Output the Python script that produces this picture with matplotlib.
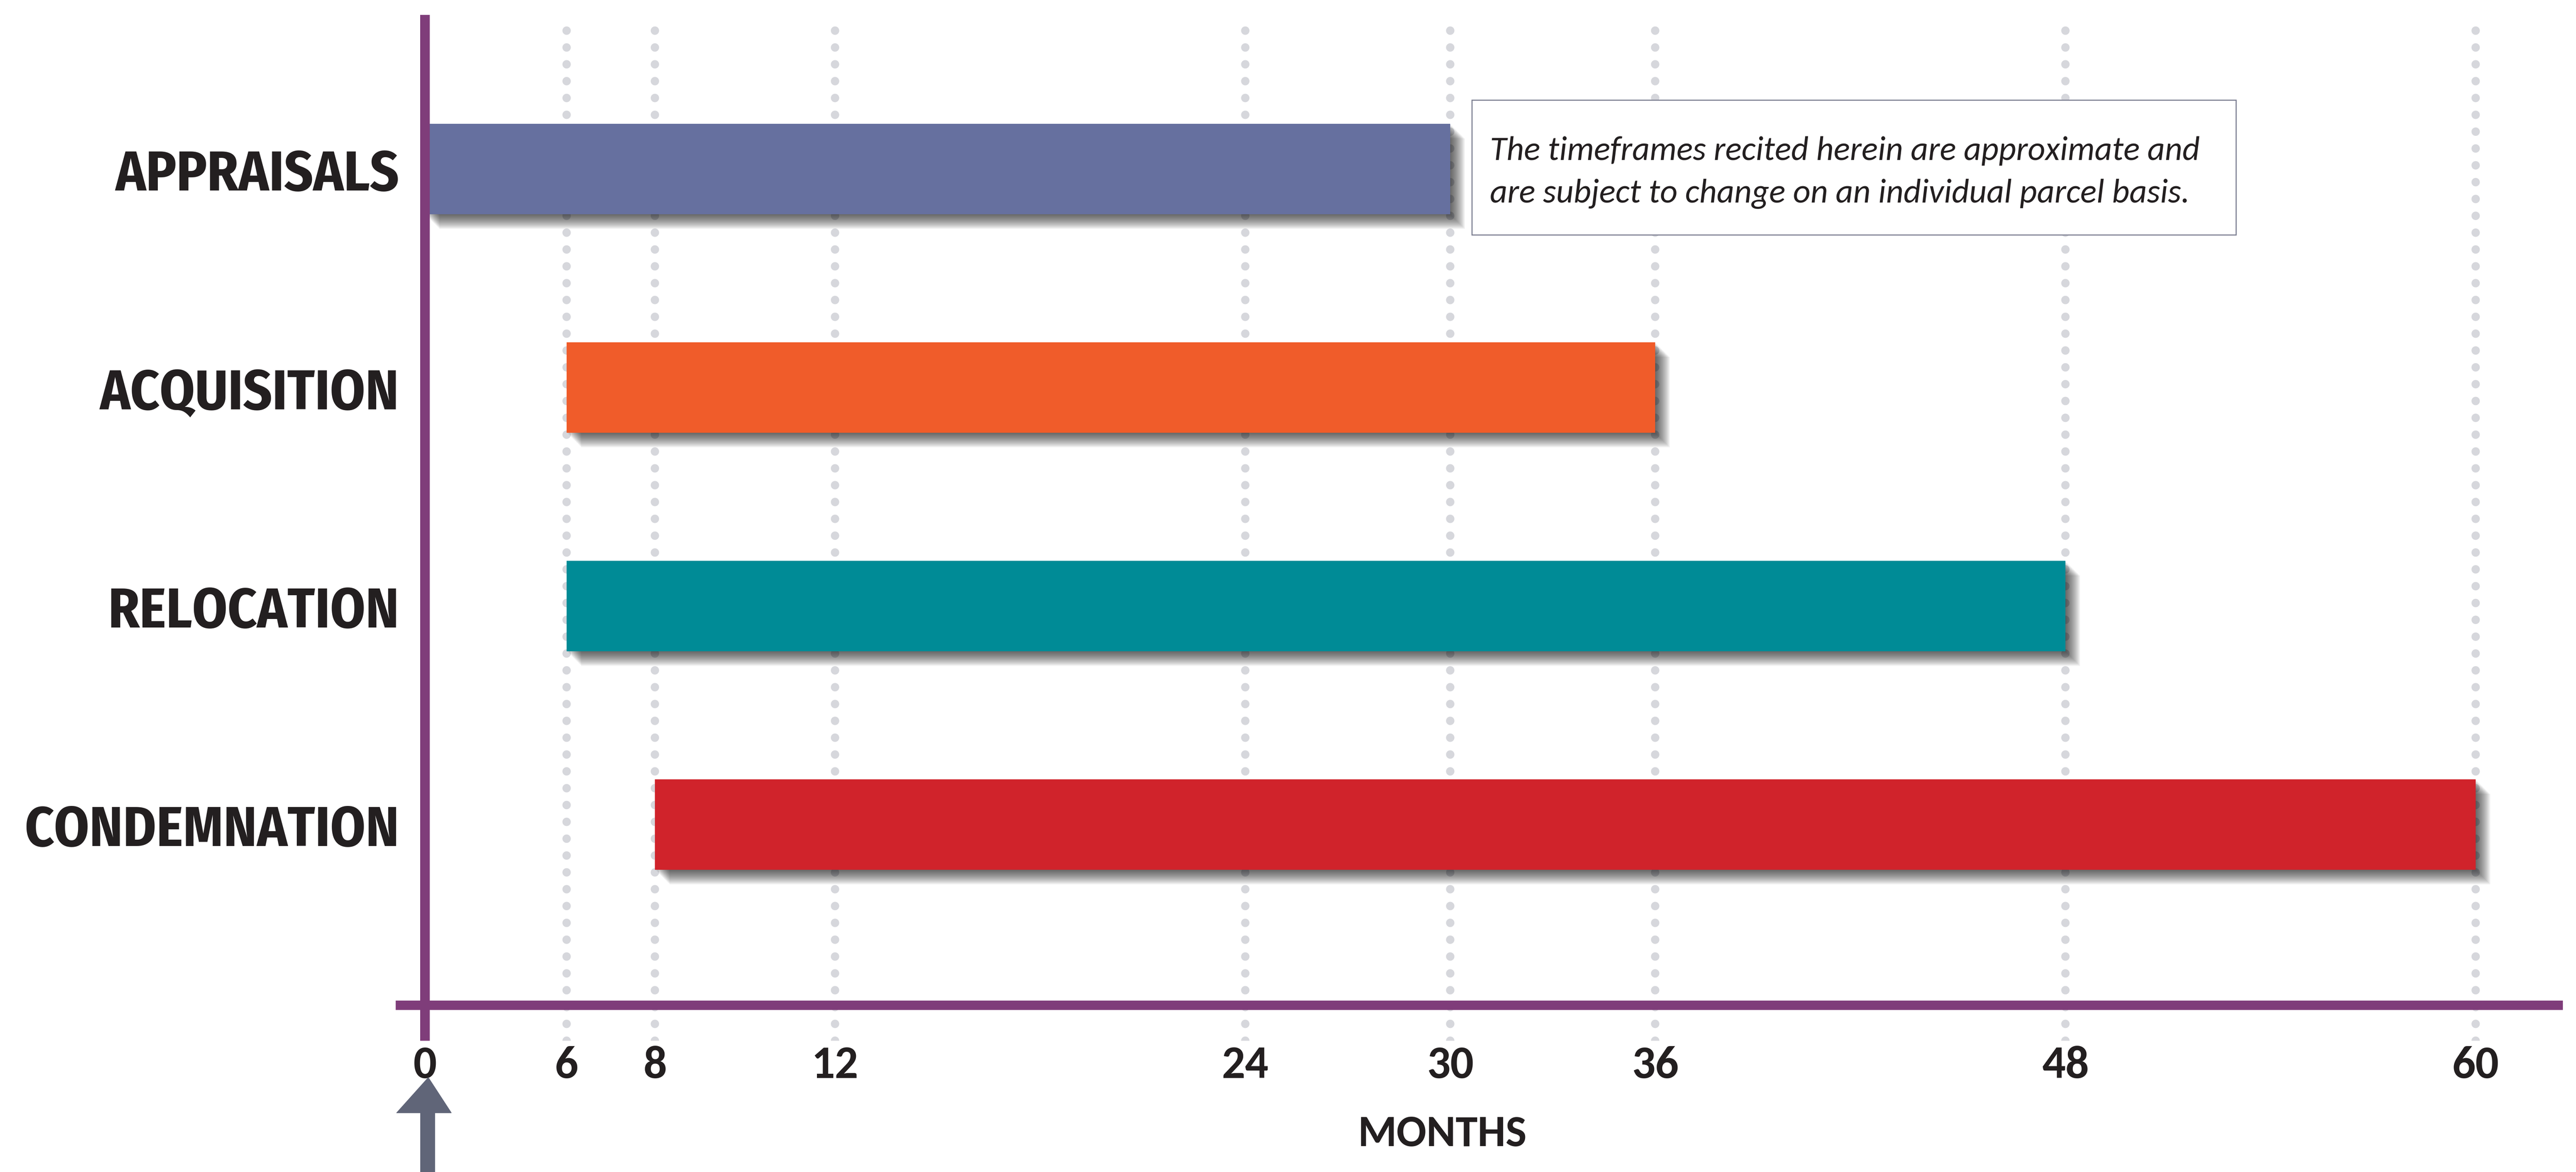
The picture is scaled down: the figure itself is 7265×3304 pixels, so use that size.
import matplotlib
matplotlib.use("Agg")
import matplotlib.pyplot as plt
import matplotlib.patheffects as pe
import numpy as np
from matplotlib import font_manager as fm
from matplotlib.patches import Rectangle

# ── Data ───────────────────────────────────────────────────────────────────────
tasks = ["APPRAISALS", "ACQUISITION", "RELOCATION", "CONDEMNATION"]
start_month = [0, 6, 6, 8]
end_month = [30, 36, 48, 60]
bar_colors = ["#66709f", "#f05c2a", "#008b96", "#d0232b"]
month_ticks = [0, 6, 8, 12, 24, 30, 36, 48, 60]
note_lines = ["The timeframes recited herein are approximate and",
              "are subject to change on an individual parcel basis."]

# The month axis of the original is not linear below 12 months:
# piecewise-linear knots (month -> drawn position)
knot_month = [-10, 0, 6, 8, 12, 100]
knot_pos = [-10, 0, 4.15, 6.73, 12, 100]

# ── Style ──────────────────────────────────────────────────────────────────────
W, H, DPI = 7265, 3305, 100
purple = "#7f3d7a"
ink = "#231f20"
installed = {f.name for f in fm.fontManager.ttflist}
has_carlito = "Carlito" in installed
label_font = ["Fira Sans Condensed", "DejaVu Sans"]
body_font = ["Carlito" if has_carlito else "Lato", "DejaVu Sans"]
tick_size, months_size, note_size = (94, 90, 69) if has_carlito else (84, 80, 66)


def fwd(x):
    return np.interp(x, knot_month, knot_pos)


def inv(x):
    return np.interp(x, knot_pos, knot_month)


fig = plt.figure(figsize=(W / DPI, H / DPI), dpi=DPI)
ax = fig.add_axes([1116 / W, 1 - 2935 / H, (7228 - 1116) / W, (2935 - 43) / H])
ax.set_xscale("function", functions=(fwd, inv))
ax.set_xlim(-0.85, 62.55)
ax.set_ylim(3.99, -0.705)
for s in ax.spines.values():
    s.set_visible(False)

ypos = list(range(len(tasks)))
widths = [e - s for s, e in zip(start_month, end_month)]

# dotted month guides (none at 0, the axis sits there)
for m in month_ticks[1:]:
    ax.axvline(m, color="#d6d7dc", lw=17, linestyle=(0, (0.01, 2.0)),
               dash_capstyle="round", zorder=1)

# soft drop shadow: stacked offset copies
shadow = [pe.SimplePatchShadow(offset=(d * 0.72, -d * 0.72), shadow_rgbFace="k", alpha=0.06)
          for d in range(2, 44, 3)] + [pe.Normal()]
ax.barh(ypos, widths, left=start_month, height=0.414, color=bar_colors,
        zorder=3, path_effects=shadow)

# axis lines
ax.axvline(0, color=purple, lw=19.5, zorder=4)
ax.axhline(3.827, color=purple, lw=19, zorder=4)

# ticks
ax.set_xticks(month_ticks)
ax.set_xticklabels([str(m) for m in month_ticks], fontsize=tick_size, fontweight="bold",
                   family=body_font, color=ink)
ax.xaxis.set_minor_locator(matplotlib.ticker.NullLocator())
ax.tick_params(axis="x", which="both", length=0, pad=8)
ax.set_yticks(ypos)
ax.set_yticklabels(tasks, fontsize=114, fontweight="bold", family=label_font, color=ink)
ax.tick_params(axis="y", length=0, pad=-7)

ax.text(0.483, -0.0906, "MONTHS", transform=ax.transAxes, ha="center", va="center",
        fontsize=months_size, fontweight="bold", family=body_font, color=ink)

# start arrow under month 0
ax.arrow(0.15, 4.62, 0, 4.158 - 4.62, width=0.55, head_width=1.95, head_length=0.162,
         length_includes_head=True, color="#606578", clip_on=False, zorder=5)

# note box
ax.add_patch(Rectangle((30.63, -0.315), 22.36, 0.617, facecolor="white",
                       edgecolor="#7d8092", lw=2.2, zorder=2))
for y, line in zip([-0.084, 0.113], note_lines):
    ax.text(31.16, y, line, ha="left", va="center", fontsize=note_size, style="italic",
            family=body_font, color=ink, zorder=3)

fig.savefig("out.png", dpi=DPI)
